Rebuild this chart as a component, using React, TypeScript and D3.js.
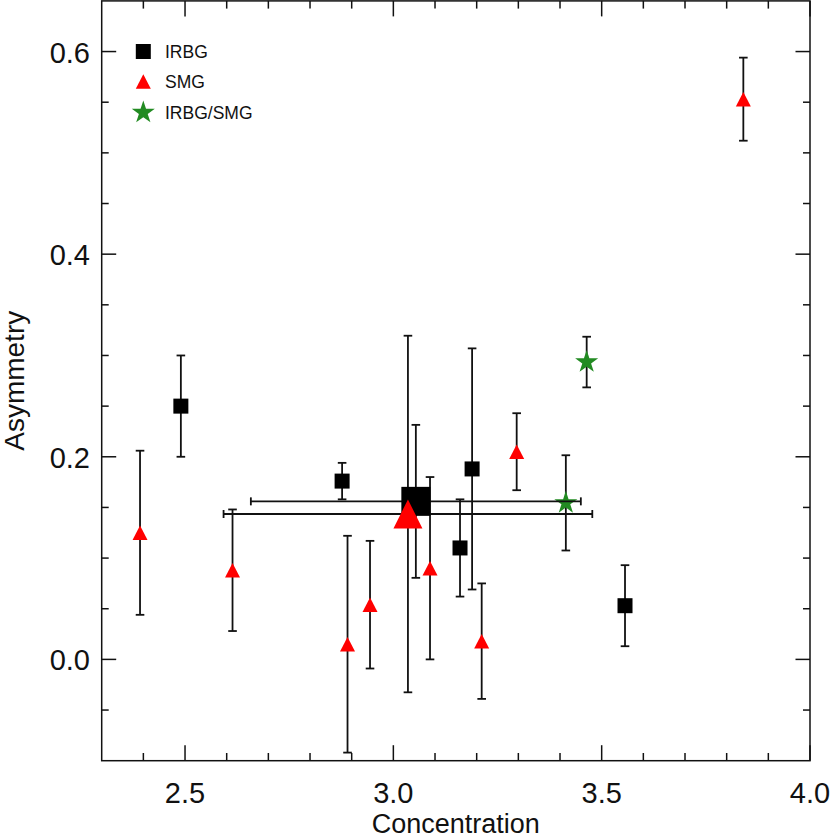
import React from "react";
import * as d3 from "d3";

// ---- data ----
const irbgConc = [2.49, 2.877, 3.16, 3.189, 3.556];
const irbgAsym = [0.25, 0.176, 0.11, 0.188, 0.053];
const irbgAsymErr = [0.05, 0.018, 0.048, 0.119, 0.04];

const smgConc = [2.392, 2.614, 2.89, 2.944, 3.088, 3.212, 3.296, 3.84];
const smgAsym = [0.125, 0.088, 0.015, 0.054, 0.09, 0.018, 0.205, 0.553];
const smgAsymErr = [0.081, 0.06, 0.107, 0.063, 0.09, 0.057, 0.038, 0.041];

const bothConc = [3.464, 3.414];
const bothAsym = [0.2935, 0.1545];
const bothAsymErr = [0.025, 0.047];

// mean values: [conc, concErr, asym, asymErr]
const irbgMean = [3.054, 0.396, 0.156, 0.0755];
const smgMean = [3.035, 0.4425, 0.1435, 0.176];

const xMajorTicks = [2.5, 3.0, 3.5, 4.0];
const yMajorTicks = [0.0, 0.2, 0.4, 0.6];
const legendLabels = ["IRBG", "SMG", "IRBG/SMG"];

const W = 831;
const H = 840;
const L = 101.7, R = 810, T = 0.9, B = 760.7;

const x = d3.scaleLinear().domain([2.3, 4.0]).range([L, R]);
const y = d3.scaleLinear().domain([-0.1, 0.65]).range([B, T]);

const RED = "#ff0000";
const GREEN = "#228b22";
const FONT = "'Liberation Sans', Arial, sans-serif";

function tri(cx: number, cy: number, w: number, h: number) {
  return `M${cx},${cy - h / 2}L${cx + w / 2},${cy + h / 2}L${cx - w / 2},${cy + h / 2}Z`;
}
const starPath = d3.symbol().type(d3.symbolStar).size(165)() as string;

function VErr({ cx, lo, hi }: { cx: number; lo: number; hi: number }) {
  const c = 4.3;
  return (
    <g stroke="#111" strokeWidth={1.8} fill="none">
      <line x1={cx} x2={cx} y1={y(lo)} y2={y(hi)} />
      <line x1={cx - c} x2={cx + c} y1={y(lo)} y2={y(lo)} />
      <line x1={cx - c} x2={cx + c} y1={y(hi)} y2={y(hi)} />
    </g>
  );
}
function HErr({ cy, lo, hi }: { cy: number; lo: number; hi: number }) {
  const c = 4;
  return (
    <g stroke="#111" strokeWidth={1.8} fill="none">
      <line x1={x(lo)} x2={x(hi)} y1={cy} y2={cy} />
      <line x1={x(lo)} x2={x(lo)} y1={cy - c} y2={cy + c} />
      <line x1={x(hi)} x2={x(hi)} y1={cy - c} y2={cy + c} />
    </g>
  );
}

export default function App() {
  const xMinor = d3.range(2.4, 4.0, 0.1).filter((v) => !xMajorTicks.some((m) => Math.abs(m - v) < 1e-6));
  const yMinor = d3.range(-0.05, 0.65, 0.05).filter((v) => !yMajorTicks.some((m) => Math.abs(m - v) < 1e-6));

  return (
    <svg width={W} height={H} style={{ position: "absolute", left: 0, top: 0, background: "#fff" }}>
      <rect x={0} y={0} width={W} height={H} fill="#fff" />
      {/* frame */}
      <rect x={L} y={T} width={R - L} height={B - T} fill="none" stroke="#111" strokeWidth={1.5} />
      {/* x ticks */}
      <g stroke="#111" strokeWidth={1.5}>
        {xMajorTicks.map((v) => (
          <g key={"xM" + v}>
            <line x1={x(v)} x2={x(v)} y1={B} y2={B - 15.5} />
            <line x1={x(v)} x2={x(v)} y1={T} y2={T + 15.5} />
          </g>
        ))}
        {xMinor.map((v) => (
          <g key={"xm" + v}>
            <line x1={x(v)} x2={x(v)} y1={B} y2={B - 7.7} />
            <line x1={x(v)} x2={x(v)} y1={T} y2={T + 7.7} />
          </g>
        ))}
        {yMajorTicks.map((v) => (
          <g key={"yM" + v}>
            <line x1={L} x2={L + 14.5} y1={y(v)} y2={y(v)} />
            <line x1={R} x2={R - 14.5} y1={y(v)} y2={y(v)} />
          </g>
        ))}
        {yMinor.map((v) => (
          <g key={"ym" + v}>
            <line x1={L} x2={L + 7} y1={y(v)} y2={y(v)} />
            <line x1={R} x2={R - 7} y1={y(v)} y2={y(v)} />
          </g>
        ))}
      </g>
      {/* tick labels */}
      <g fontFamily={FONT} fontSize={29} fill="#111">
        {xMajorTicks.map((v) => (
          <text key={"xl" + v} x={x(v)} y={803} textAnchor="middle">
            {v.toFixed(1)}
          </text>
        ))}
        {yMajorTicks.map((v) => (
          <text key={"yl" + v} x={90} y={y(v) + 11} textAnchor="end">
            {v.toFixed(1)}
          </text>
        ))}
      </g>
      <text x={(L + R) / 2} y={833} textAnchor="middle" fontFamily={FONT} fontSize={27} fill="#111">
        Concentration
      </text>
      <text
        transform={`translate(24,${(T + B) / 2}) rotate(-90)`}
        textAnchor="middle"
        fontFamily={FONT}
        fontSize={28}
        fill="#111"
      >
        Asymmetry
      </text>

      {/* individual points */}
      {smgConc.map((c, i) => (
        <g key={"s" + i}>
          <VErr cx={x(c)} lo={smgAsym[i] - smgAsymErr[i]} hi={smgAsym[i] + smgAsymErr[i]} />
          <path d={tri(x(c), y(smgAsym[i]), 15, 14.5)} fill={RED} />
        </g>
      ))}
      {irbgConc.map((c, i) => (
        <g key={"i" + i}>
          <VErr cx={x(c)} lo={irbgAsym[i] - irbgAsymErr[i]} hi={irbgAsym[i] + irbgAsymErr[i]} />
          <rect x={x(c) - 7.5} y={y(irbgAsym[i]) - 7.5} width={15} height={15} fill="#000" />
        </g>
      ))}
      {bothConc.map((c, i) => (
        <g key={"b" + i}>
          <VErr cx={x(c)} lo={bothAsym[i] - bothAsymErr[i]} hi={bothAsym[i] + bothAsymErr[i]} />
          <path d={starPath} transform={`translate(${x(c)},${y(bothAsym[i])})`} fill={GREEN} />
        </g>
      ))}

      {/* means */}
      <VErr cx={x(irbgMean[0])} lo={irbgMean[2] - irbgMean[3]} hi={irbgMean[2] + irbgMean[3]} />
      <HErr cy={y(irbgMean[2])} lo={irbgMean[0] - irbgMean[1]} hi={irbgMean[0] + irbgMean[1]} />
      <VErr cx={x(smgMean[0])} lo={smgMean[2] - smgMean[3]} hi={smgMean[2] + smgMean[3]} />
      <HErr cy={y(smgMean[2])} lo={smgMean[0] - smgMean[1]} hi={smgMean[0] + smgMean[1]} />
      <rect x={x(irbgMean[0]) - 14.5} y={y(irbgMean[2]) - 14.5} width={29} height={29} fill="#000" />
      <path d={tri(x(smgMean[0]), y(smgMean[2]), 29, 29)} fill={RED} />

      {/* legend */}
      <g fontFamily={FONT} fontSize={17.5} fill="#111">
        <rect x={143.3 - 7.5} y={51.5 - 7.5} width={15} height={15} fill="#000" />
        <text x={165} y={57.5}>{legendLabels[0]}</text>
        <path d={tri(143.3, 81.5, 15, 14.5)} fill={RED} />
        <text x={165} y={88}>{legendLabels[1]}</text>
        <path d={starPath} transform="translate(143.3,112.5)" fill={GREEN} />
        <text x={165} y={118.5}>{legendLabels[2]}</text>
      </g>
    </svg>
  );
}
